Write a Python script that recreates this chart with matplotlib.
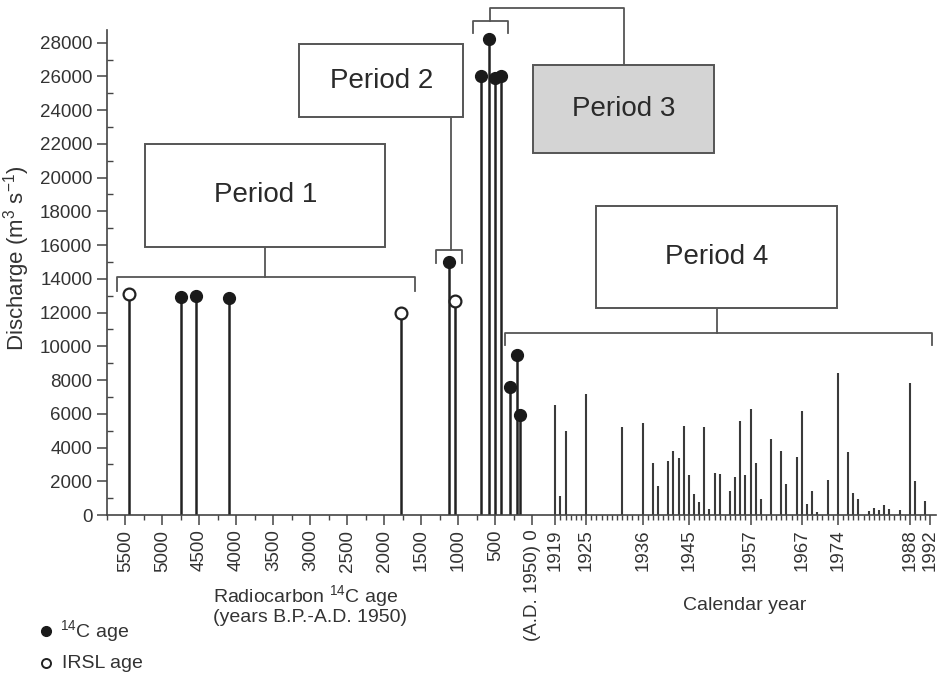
import numpy as np
import matplotlib
matplotlib.use("Agg")
import matplotlib.pyplot as plt
from matplotlib.patches import Rectangle
from matplotlib.lines import Line2D

plt.rcParams['font.family'] = ['Liberation Sans', 'DejaVu Sans']
plt.rcParams['mathtext.fontset'] = 'custom'
plt.rcParams['mathtext.rm'] = 'Liberation Sans'
plt.rcParams['mathtext.it'] = 'Liberation Sans'

# palaeoflood data (radiocarbon years B.P.), discharge in m3/s
c14_age = [4750, 4550, 4100, 1130, 700, 590, 510, 420, 300, 210, 160]
c14_q = [12900, 13000, 12850, 15000, 26000, 28200, 25900, 26000, 7600, 9500, 5900]
irsl_age = [5450, 1780, 1050]
irsl_q = [13100, 12000, 12700]

# gauged annual peaks (calendar years)
gauge_year = [1919, 1920, 1921, 1925, 1932, 1936, 1938, 1939, 1941, 1942, 1943, 1944,
              1945, 1946, 1947, 1948, 1949, 1950, 1951, 1953, 1954, 1955, 1956, 1957,
              1958, 1959, 1961, 1963, 1964, 1966, 1967, 1968, 1969, 1970, 1972, 1974,
              1976, 1977, 1978, 1980, 1981, 1982, 1983, 1984, 1986, 1988, 1989, 1991]
gauge_q = [6550, 1100, 5000, 7150, 5200, 5450, 3100, 1700, 3200, 3800, 3400, 5250,
           2400, 1250, 750, 5200, 350, 2500, 2450, 1400, 2250, 5600, 2400, 6300,
           3100, 950, 4500, 3800, 1850, 3450, 6150, 650, 1450, 200, 2050, 8400,
           3750, 1300, 950, 250, 400, 300, 600, 350, 300, 7850, 2000, 850]

bp_ticks = [5500, 5000, 4500, 4000, 3500, 3000, 2500, 2000, 1500, 1000, 500]
cal_ticks = [1919, 1925, 1936, 1945, 1957, 1967, 1974, 1988, 1992]


# broken x axis: B.P. ages (stored negative) on a long scale, then calendar years
def fwd(x):
    x = np.asarray(x, dtype=float)
    return np.where(x <= 0, 532 + 0.074 * x,
                    np.where(x < 1919, 532 + 23 * x / 1919, 555 + 5.14 * (x - 1919)))


def inv(p):
    p = np.asarray(p, dtype=float)
    return np.where(p <= 532, (p - 532) / 0.074,
                    np.where(p < 555, (p - 532) * 1919 / 23, 1919 + (p - 555) / 5.14))


def mid(x0, x1):
    return float(inv((fwd(x0) + fwd(x1)) / 2))


fig = plt.figure(figsize=(9.39, 6.76), dpi=100)
ax = fig.add_axes([107 / 939, 161 / 676, 829 / 939, 485 / 676])
ax.set_xscale('function', functions=(fwd, inv))
ax.set_xlim(-5750, 1993.1)
ax.set_ylim(0, 28750)

dark = '#222222'
gray = '#555555'

# stems
ax.vlines(gauge_year, 0, gauge_q, color='#3a3a3a', lw=1.5)
ax.vlines([-a for a in c14_age], 0, c14_q, color=dark, lw=1.8)
ax.vlines([-a for a in irsl_age], 0, irsl_q, color=dark, lw=1.8)
ax.plot([-a for a in c14_age], c14_q, 'o', ms=8.5, color='#1a1a1a', clip_on=False, zorder=4)
ax.plot([-a for a in irsl_age], irsl_q, 'o', ms=8.5, mfc='white', mec=dark, mew=1.6,
        clip_on=False, zorder=4)


def bracket(x0, x1, y, drop):
    ax.plot([x0, x0, x1, x1], [y - drop, y, y, y - drop], color=gray, lw=1.3, clip_on=False)


def box(x0, x1, y0, y1, label, fc='white'):
    ax.add_patch(Rectangle((x0, y0), x1 - x0, y1 - y0, fc=fc, ec=gray, lw=1.4,
                           clip_on=False, zorder=3))
    ax.text(mid(x0, x1), (y0 + y1) / 2, label, ha='center', va='center', fontsize=20,
            color='#2a2a2a', zorder=5)


# Period 1
bracket(-5612, -1590, 14100, 800)
box(-5230, -1990, 15900, 22000, 'Period 1')
cx = mid(-5230, -1990)
ax.plot([cx, cx], [14100, 15900], color=gray, lw=1.3)

# Period 2
bracket(-1297, -950, 15680, 750)
box(-3149, -936, 23590, 27920, 'Period 2')
ax.plot([-1099, -1099], [15680, 23590], color=gray, lw=1.3)

# Period 3
bracket(-801, -334, 29280, 710)
box(58, 1949.9, 21450, 26670, 'Period 3', fc='#d4d4d4')
cx = mid(58, 1949.9)
ax.plot([cx, cx, -568, -568], [26670, 30070, 30070, 29280], color=gray, lw=1.3,
        clip_on=False)

# Period 4
bracket(-365, 1992.3, 10810, 730)
box(1927.0, 1973.8, 12260, 18345, 'Period 4')
cx = mid(1927.0, 1973.8)
ax.plot([cx, cx], [10810, 12260], color=gray, lw=1.3)

# axes styling
for s in ['top', 'right']:
    ax.spines[s].set_visible(False)
for s in ['left', 'bottom']:
    ax.spines[s].set_color('#444444')
    ax.spines[s].set_linewidth(1.2)

ax.set_yticks(range(0, 28001, 2000))
ax.set_yticks(range(1000, 28001, 2000), minor=True)
ax.tick_params(axis='y', which='major', direction='out', length=7, width=1.1,
               colors='#444444', labelsize=13.5, labelcolor='#333333')
ax.tick_params(axis='y', which='minor', direction='in', length=4, width=1, colors='#444444')

xt = [-a for a in bp_ticks] + [0] + cal_ticks
xl = [str(a) for a in bp_ticks] + ['(A.D. 1950) 0'] + [str(y) for y in cal_ticks]
ax.set_xticks(xt)
ax.set_xticklabels(xl, rotation=90)
minor = [-a for a in range(5750, 0, -500)] + [y for y in range(1920, 1992) if y not in cal_ticks]
ax.set_xticks(minor, minor=True)
ax.tick_params(axis='x', which='major', direction='out', length=7, width=1.1,
               colors='#444444', labelsize=13.5, labelcolor='#333333')
ax.tick_params(axis='x', which='minor', direction='out', length=3.5, width=1, colors='#444444')

# labels
fig.text(17 / 939, 1 - 258 / 676, r'Discharge (m$^3$ s$^{-1}$)', rotation=90,
         ha='center', va='center', fontsize=16, color='#333333')
fig.text(213 / 939, 1 - 605 / 676, 'Radiocarbon $^{14}$C age\n(years B.P.-A.D. 1950)',
         ha='left', va='center', fontsize=14, color='#333333', linespacing=1.0)
fig.text(745 / 939, 1 - 605 / 676, 'Calendar year', ha='center', va='center',
         fontsize=14, color='#333333')

# legend
fig.add_artist(Line2D([46 / 939], [1 - 631 / 676], marker='o', ms=7, color='#1a1a1a',
                      transform=fig.transFigure))
fig.add_artist(Line2D([46 / 939], [1 - 663 / 676], marker='o', ms=6.5, mfc='white',
                      mec=dark, mew=1.4, transform=fig.transFigure))
fig.text(60 / 939, 1 - 631 / 676, '$^{14}$C age', ha='left', va='center', fontsize=14,
         color='#333333')
fig.text(62 / 939, 1 - 663 / 676, 'IRSL age', ha='left', va='center', fontsize=14,
         color='#333333')

fig.savefig('out.png', dpi=100)
